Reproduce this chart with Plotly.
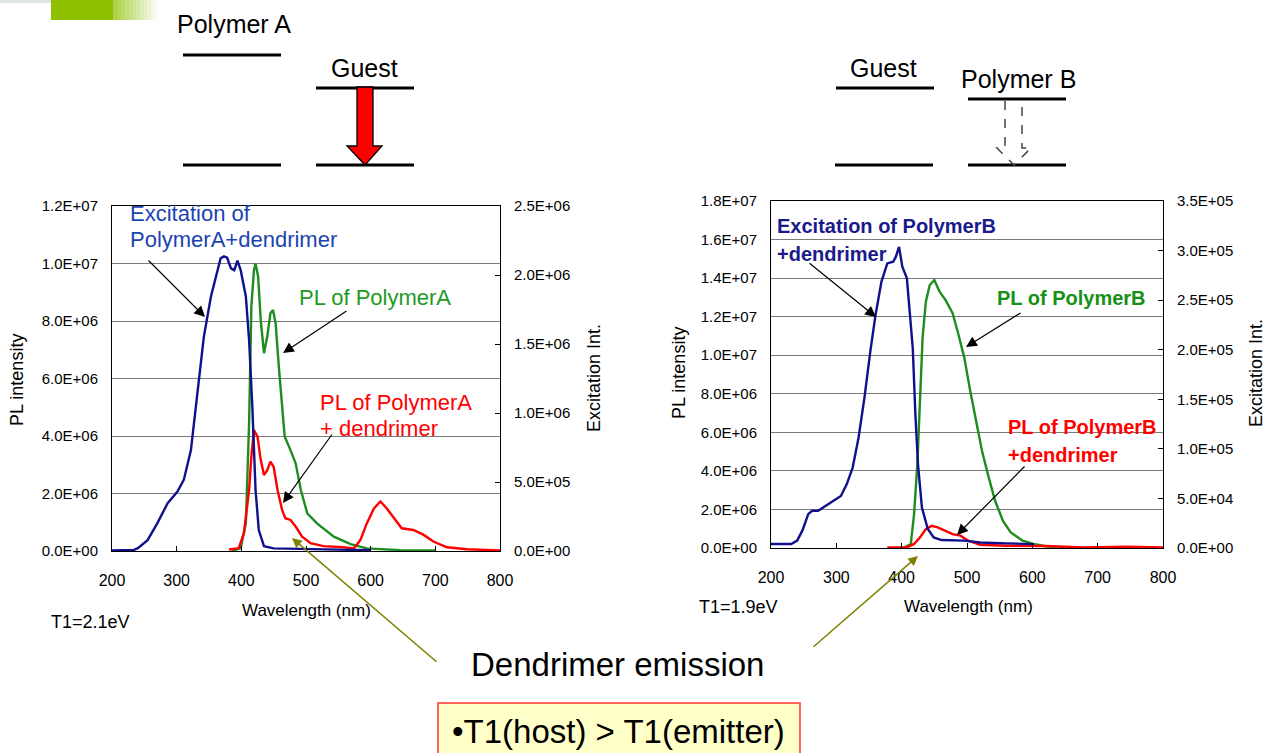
import plotly.graph_objects as go

W, H = 1265, 753

# ---------------- data ----------------
# Left chart: Polymer A
a_exc_wl = [200, 220, 234, 240, 255, 270, 286, 301, 311, 322, 332, 342, 353, 363, 368, 373, 378, 384,
            389, 394, 399, 407, 412, 417, 422, 427, 435, 450, 491, 550, 600]
a_exc_val = [4000, 4000, 8000, 20800, 79000, 200000, 346000, 429000, 515000, 729000, 1119000, 1552000,
             1844000, 2035000, 2121000, 2135000, 2125000, 2048000, 2035000, 2104000, 2035000, 1844000,
             1529000, 1046000, 442000, 152000, 35000, 19000, 17000, 10000, 6000]

a_pl_wl = [385, 399, 407, 412, 415.5, 419.5, 422, 426, 430, 435, 440, 445, 449, 453, 458, 463, 467, 476,
           484, 492, 502, 517, 543, 569, 594, 646, 700]
a_pl_val = [0.0e6, 0.1e6, 0.97e6, 4.44e6, 8.5e6, 9.77e6, 10.0e6, 9.54e6, 8.03e6, 6.88e6, 7.45e6, 8.27e6,
            8.38e6, 7.92e6, 6.41e6, 5.02e6, 3.98e6, 3.51e6, 3.05e6, 2.12e6, 1.31e6, 0.96e6, 0.50e6,
            0.24e6, 0.09e6, 0.03e6, 0.02e6]

a_pld_wl = [381, 396, 404, 412, 415.5, 419.5, 425, 430, 435, 440, 445, 450, 456, 463, 468, 476, 484, 494,
            507, 527, 558, 574, 584, 594, 605, 615, 625, 638, 648, 666, 682, 697, 718, 749, 774, 800]
a_pld_val = [0.05e6, 0.1e6, 0.62e6, 2.12e6, 3.28e6, 4.21e6, 3.98e6, 3.17e6, 2.64e6, 2.81e6, 3.11e6,
             2.93e6, 2.12e6, 1.43e6, 1.14e6, 1.08e6, 0.85e6, 0.50e6, 0.27e6, 0.17e6, 0.13e6, 0.09e6,
             0.38e6, 0.96e6, 1.48e6, 1.72e6, 1.48e6, 1.08e6, 0.79e6, 0.73e6, 0.56e6, 0.33e6, 0.13e6,
             0.06e6, 0.03e6, 0.02e6]

# Right chart: Polymer B
b_exc_wl = [200, 231, 240, 248, 257, 263, 272, 284, 296, 307, 316, 325, 334, 343, 352, 360, 369, 378,
            387, 391, 396, 401, 408, 412, 417, 421, 425, 431, 440, 449, 461, 496, 520, 561, 596, 602]
b_exc_val = [4100, 4100, 7400, 17500, 34200, 37500, 37500, 42600, 47600, 52500, 64400, 81100, 111200,
             151500, 198300, 235100, 268500, 287000, 288700, 293600, 303700, 283700, 272000, 241900,
             201600, 134600, 84400, 40800, 19100, 10700, 8000, 7400, 5600, 4700, 4100, 3900]

b_pl_wl = [395, 402, 414, 419, 424, 428, 432, 437, 443, 450, 458, 467, 478, 487, 496, 505, 514, 523, 532,
           543, 555, 567, 585, 602, 620, 638, 650]
b_pl_val = [0.0e6, 0.0e6, 0.21e6, 1.76e6, 4.34e6, 7.79e6, 10.89e6, 12.78e6, 13.64e6, 13.9e6, 13.3e6,
            12.87e6, 12.18e6, 11.06e6, 9.85e6, 8.13e6, 6.58e6, 5.03e6, 3.82e6, 2.45e6, 1.41e6, 0.81e6,
            0.38e6, 0.21e6, 0.09e6, 0.03e6, 0.0e6]

b_pld_wl = [378, 408, 419, 428, 437, 446, 455, 467, 478, 490, 502, 520, 561, 620, 679, 744, 800]
b_pld_val = [0.03e6, 0.03e6, 0.21e6, 0.55e6, 0.98e6, 1.15e6, 1.07e6, 0.90e6, 0.72e6, 0.64e6, 0.38e6,
             0.17e6, 0.12e6, 0.10e6, 0.03e6, 0.07e6, 0.03e6]

# tick labels
x_ticks = [200, 300, 400, 500, 600, 700, 800]
a_left_ticks = [0, 2e6, 4e6, 6e6, 8e6, 10e6, 12e6]
a_left_text = ["0.0E+00", "2.0E+06", "4.0E+06", "6.0E+06", "8.0E+06", "1.0E+07", "1.2E+07"]
a_right_ticks = [0, 5e5, 1e6, 1.5e6, 2e6, 2.5e6]
a_right_text = ["0.0E+00", "5.0E+05", "1.0E+06", "1.5E+06", "2.0E+06", "2.5E+06"]
b_left_ticks = [0, 2e6, 4e6, 6e6, 8e6, 10e6, 12e6, 14e6, 16e6, 18e6]
b_left_text = ["0.0E+00", "2.0E+06", "4.0E+06", "6.0E+06", "8.0E+06", "1.0E+07", "1.2E+07",
               "1.4E+07", "1.6E+07", "1.8E+07"]
b_right_ticks = [0, 5e4, 1e5, 1.5e5, 2e5, 2.5e5, 3e5, 3.5e5]
b_right_text = ["0.0E+00", "5.0E+04", "1.0E+05", "1.5E+05", "2.0E+05", "2.5E+05", "3.0E+05", "3.5E+05"]

# ---------------- styling ----------------
NAVY = "#10108c"
GREEN = "#1e8c1e"
RED = "#ff0000"
FONT = "Liberation Sans"


def PX(x):
    return x / W


def PY(y):
    return 1 - y / H


fig = go.Figure()
lw = 2.4
fig.add_trace(go.Scatter(x=a_exc_wl, y=a_exc_val, mode="lines", line=dict(color=NAVY, width=lw),
                         xaxis="x", yaxis="y2", showlegend=False))
fig.add_trace(go.Scatter(x=a_pl_wl, y=a_pl_val, mode="lines", line=dict(color=GREEN, width=lw),
                         xaxis="x", yaxis="y", showlegend=False))
fig.add_trace(go.Scatter(x=a_pld_wl, y=a_pld_val, mode="lines", line=dict(color=RED, width=lw),
                         xaxis="x", yaxis="y", showlegend=False))
fig.add_trace(go.Scatter(x=b_exc_wl, y=b_exc_val, mode="lines", line=dict(color=NAVY, width=lw),
                         xaxis="x2", yaxis="y4", showlegend=False))
fig.add_trace(go.Scatter(x=b_pl_wl, y=b_pl_val, mode="lines", line=dict(color=GREEN, width=lw),
                         xaxis="x2", yaxis="y3", showlegend=False))
fig.add_trace(go.Scatter(x=b_pld_wl, y=b_pld_val, mode="lines", line=dict(color=RED, width=lw),
                         xaxis="x2", yaxis="y3", showlegend=False))

tickfont_y = dict(family=FONT, size=15, color="black")
tickfont_x = dict(family=FONT, size=16, color="black")

xax = dict(range=[200, 800], tickvals=x_ticks, ticks="inside", ticklen=5, tickcolor="black",
           showline=True, linecolor="black", linewidth=1, mirror=True, showgrid=False,
           zeroline=False, tickfont=tickfont_x, ticklabelstandoff=15, fixedrange=True,
           automargin=False)
yl = dict(showgrid=True, gridcolor="#7a7a7a", gridwidth=1, showline=True, linecolor="black",
          linewidth=1, ticks="", zeroline=False, tickfont=tickfont_y, ticklabelstandoff=10,
          fixedrange=True, automargin=False)
yr = dict(side="right", showgrid=False, showline=True, linecolor="black", linewidth=1,
          ticks="inside", ticklen=5, tickcolor="black", zeroline=False, tickfont=tickfont_y,
          ticklabelstandoff=10, fixedrange=True, automargin=False)

fig.update_layout(
    width=W, height=H, margin=dict(l=0, r=0, t=0, b=0, pad=0), autosize=False,
    paper_bgcolor="white", plot_bgcolor="white",
    font=dict(family=FONT, color="black"),
    xaxis=dict(xax, domain=[PX(112), PX(500)], anchor="y"),
    yaxis=dict(yl, domain=[PY(551), PY(206)], range=[0, 1.2e7], tickvals=a_left_ticks,
               ticktext=a_left_text, anchor="x"),
    yaxis2=dict(yr, overlaying="y", range=[0, 2.5e6], tickvals=a_right_ticks,
                ticktext=a_right_text, anchor="x"),
    xaxis2=dict(xax, domain=[PX(771), PX(1163)], anchor="y3"),
    yaxis3=dict(yl, domain=[PY(548), PY(201)], range=[0, 1.8e7], tickvals=b_left_ticks,
                ticktext=b_left_text, anchor="x2"),
    yaxis4=dict(yr, overlaying="y3", range=[0, 3.5e5], tickvals=b_right_ticks,
                ticktext=b_right_text, anchor="x2"),
)

shapes = []
annots = []


def line(x0, y0, x1, y1, color="black", width=3, dash=None):
    shapes.append(dict(type="line", xref="paper", yref="paper", x0=PX(x0), y0=PY(y0), x1=PX(x1),
                       y1=PY(y1), line=dict(color=color, width=width, dash=dash)))


def text(x, y, s, size, color="black", xanchor="left", bold=False, angle=0, family=FONT):
    if bold:
        s = "<b>" + s + "</b>"
    annots.append(dict(x=PX(x), y=PY(y), xref="paper", yref="paper", text=s, showarrow=False,
                       xanchor=xanchor, yanchor="middle", textangle=angle,
                       font=dict(family=family, size=size, color=color)))


def arrow(x0, y0, x1, y1, color="black", width=1.2, size=1.8):
    annots.append(dict(x=PX(x1), y=PY(y1), xref="paper", yref="paper", ax=x0 - x1, ay=y0 - y1,
                       axref="pixel", ayref="pixel", text="", showarrow=True, arrowhead=2,
                       arrowsize=size, arrowwidth=width, arrowcolor=color, standoff=0))


# decorative header bar
shapes.append(dict(type="rect", xref="paper", yref="paper", x0=PX(0), x1=PX(71), y0=PY(3), y1=PY(0),
                   line=dict(width=0), fillcolor="#dfe5e5"))
shapes.append(dict(type="rect", xref="paper", yref="paper", x0=PX(51), x1=PX(113), y0=PY(20), y1=PY(0),
                   line=dict(width=0), fillcolor="#8fc000"))
nstep = 12
for i in range(nstep):
    x0 = 113 + i * 45 / nstep
    shapes.append(dict(type="rect", xref="paper", yref="paper", x0=PX(x0), x1=PX(x0 + 45 / nstep + 0.3),
                       y0=PY(20), y1=PY(0), line=dict(width=0), fillcolor="#8fc000",
                       opacity=0.75 * (1 - (i + 0.5) / nstep)))

# energy diagram, left
line(183, 55, 281, 55)
line(183, 165, 281, 165)
line(316, 88, 414, 88)
line(316, 165, 414, 165)
text(234, 24, "Polymer A", 25, xanchor="center")
text(364, 68, "Guest", 25, xanchor="center")
path = "M {} {} L {} {} L {} {} L {} {} L {} {} L {} {} L {} {} Z".format(
    PX(357), PY(87), PX(357), PY(146), PX(347), PY(146), PX(365), PY(165), PX(382), PY(146),
    PX(373), PY(146), PX(373), PY(87))
shapes.append(dict(type="path", xref="paper", yref="paper", path=path, fillcolor="#ff0000",
                   line=dict(color="black", width=1.3)))

# energy diagram, right
line(836, 88, 934, 88)
line(835, 165, 933, 165)
line(968, 99, 1066, 99)
line(968, 165, 1066, 165)
text(883, 68, "Guest", 25, xanchor="center")
text(1018, 79, "Polymer B", 25, xanchor="center")
path = "M {} {} L {} {} L {} {} L {} {} L {} {} L {} {} L {} {}".format(
    PX(1005), PY(101), PX(1005), PY(148), PX(997), PY(148), PX(1014), PY(165), PX(1031), PY(148),
    PX(1022), PY(148), PX(1022), PY(101))
shapes.append(dict(type="path", xref="paper", yref="paper", path=path,
                   line=dict(color="#444444", width=1.5, dash="dash")))

# axis titles
text(17, 380, "PL intensity", 18, angle=-90, xanchor="center")
text(594, 378, "Excitation Int.", 18, angle=-90, xanchor="center")
text(306, 610, "Wavelength (nm)", 17, xanchor="center")
text(49, 622, "T1=2.1eV", 18)
text(679, 373, "PL intensity", 18, angle=-90, xanchor="center")
text(1256, 373, "Excitation Int.", 18, angle=-90, xanchor="center")
text(968, 606, "Wavelength (nm)", 17, xanchor="center")
text(697, 607, "T1=1.9eV", 18)

# left chart labels
BLUE_T = "#1a44b0"
text(128, 214, "Excitation of", 22, BLUE_T)
text(128, 240, "PolymerA+dendrimer", 22, BLUE_T)
arrow(147, 259, 205, 317)
text(297, 297, "PL of PolymerA", 22, "#1f9a1f")
arrow(348, 310, 283, 353)
text(318, 402, "PL of PolymerA", 22, RED)
text(318, 428, "+ dendrimer", 22, RED)
arrow(333, 433, 283, 503)

# right chart labels
text(775, 226, "Excitation of PolymerB", 20, "#1a1a8a", bold=True)
text(775, 254, "+dendrimer", 20, "#1a1a8a", bold=True)
arrow(808, 262, 876, 317)
text(995, 298, "PL of PolymerB", 20, "#169116", bold=True)
arrow(1022, 312, 966, 347)
text(1006, 427, "PL of PolymerB", 20, RED, bold=True)
text(1006, 455, "+dendrimer", 20, RED, bold=True)
arrow(1026, 465, 957, 535)

# dendrimer emission
text(617, 664, "Dendrimer emission", 33, xanchor="center")
arrow(438, 663, 292, 538, color="#808000", width=1.5, size=1.3)
arrow(812, 648, 918, 556, color="#808000", width=1.5, size=1.3)

# box
shapes.append(dict(type="rect", xref="paper", yref="paper", x0=PX(438), x1=PX(800), y0=PY(760),
                   y1=PY(703), fillcolor="#ffffc8", line=dict(color="#ff3333", width=1.5)))
text(450, 731, "•T1(host) > T1(emitter)", 33)

fig.update_layout(shapes=shapes, annotations=annots)

fig.write_html("out.html", config={"displayModeBar": False},
               post_script="document.body.style.margin='0';document.body.style.overflow='hidden';")
